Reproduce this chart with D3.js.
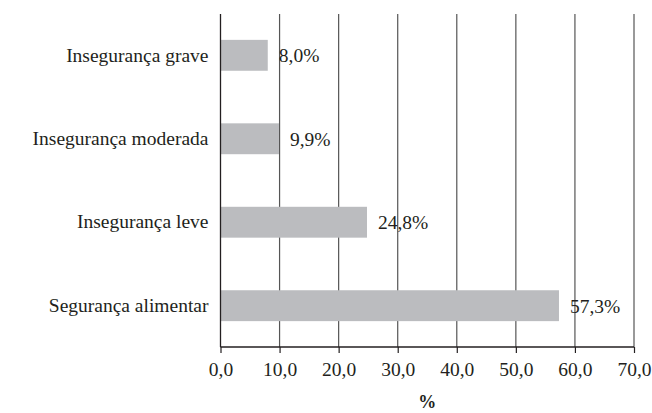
<!DOCTYPE html>
<html lang="pt">
<head>
<meta charset="UTF-8">
<script src="https://d3js.org/d3.v7.min.js"></script>
<style>
  body { margin: 0; background: #fff; }
  svg text { font-family: "Liberation Serif", "Times New Roman", Times, "DejaVu Serif", "Noto Serif", serif !important; fill: #231f20; }
</style>
</head>
<body>
<div id="chart_area"></div>
<script>
  // data
  var categories = ["Insegurança grave", "Insegurança moderada", "Insegurança leve", "Segurança alimentar"];
  var values = [8.0, 9.9, 24.8, 57.3];
  var tickValues = [0, 10, 20, 30, 40, 50, 60, 70];

  var W = 652, H = 413;
  var margin = { top: 14, right: 18, bottom: 66, left: 220.5 },
    width = W - margin.left - margin.right,
    height = H - margin.top - margin.bottom;

  var fmt = function(v) { return v.toFixed(1).replace(".", ","); };

  var svg = d3.select("#chart_area").append("svg")
    .attr("width", W)
    .attr("height", H)
    .append("g")
    .attr("transform", "translate(" + margin.left + "," + margin.top + ")");

  var x = d3.scaleLinear().domain([0, 70]).range([0, width]);

  var y = d3.scaleBand()
    .domain(categories)
    .range([0, height])
    .paddingInner(0.63)
    .paddingOuter(0.31);

  // vertical grid lines
  svg.append("g")
    .selectAll("line")
    .data(tickValues.slice(1))
    .enter().append("line")
      .attr("x1", function(d) { return x(d); })
      .attr("x2", function(d) { return x(d); })
      .attr("y1", 0)
      .attr("y2", height)
      .attr("stroke", "#555")
      .attr("stroke-width", 1.2);

  // bars
  svg.append("g")
    .selectAll("rect")
    .data(values)
    .enter().append("rect")
      .attr("x", x(0))
      .attr("y", function(d, i) { return y(categories[i]); })
      .attr("width", function(d) { return x(d) - x(0); })
      .attr("height", y.bandwidth())
      .attr("fill", "#bbbcbf");

  // value labels
  svg.append("g")
    .selectAll("text")
    .data(values)
    .enter().append("text")
      .attr("x", function(d) { return x(d) + 11; })
      .attr("y", function(d, i) { return y(categories[i]) + y.bandwidth() / 2; })
      .attr("dy", "0.35em")
      .style("font-size", "19.5px")
      .text(function(d) { return fmt(d) + "%"; });

  // x axis
  var xAxis = svg.append("g")
    .attr("transform", "translate(0," + height + ")")
    .call(d3.axisBottom(x).tickValues(tickValues).tickSize(6).tickPadding(9).tickFormat(fmt));
  xAxis.select(".domain").attr("stroke", "#231f20").attr("stroke-width", 1.3).attr("d", "M0,0H" + width);
  xAxis.selectAll(".tick line").attr("stroke", "#231f20").attr("stroke-width", 1.2);
  xAxis.selectAll(".tick text")
    .style("font-size", "19.5px")
    .attr("fill", "#231f20");

  // y axis
  var yAxis = svg.append("g")
    .call(d3.axisLeft(y).tickSize(0).tickPadding(12));
  yAxis.select(".domain").attr("stroke", "#231f20").attr("stroke-width", 1.3).attr("d", "M0,0V" + height);
  yAxis.selectAll(".tick text")
    .style("font-size", "19.5px")
    .attr("fill", "#231f20");

  // axis title
  svg.append("text")
    .attr("x", width / 2)
    .attr("y", height + 61)
    .attr("text-anchor", "middle")
    .style("font-size", "18px")
    .style("font-weight", "bold")
    .text("%");
</script>
</body>
</html>
